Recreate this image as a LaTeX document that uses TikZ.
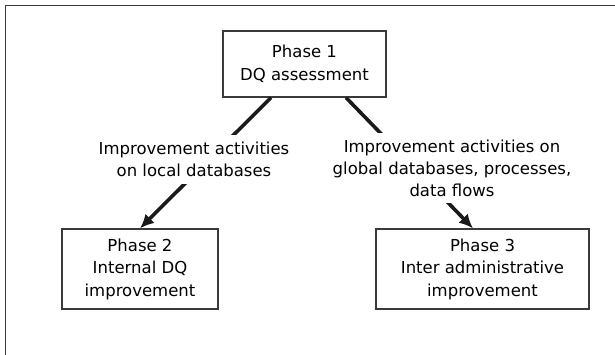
\documentclass[tikz,border=0pt]{standalone}
\usepackage{fontspec}
\setmainfont{DejaVu Sans}
\usepackage{xcolor}
\usepackage{tikz}
\usetikzlibrary{arrows.meta}
\definecolor{Frame}{HTML}{3a3a3a}
\definecolor{Edge}{HTML}{1a1a1a}
\tikzset{
  phasebox/.style={draw=Frame, line width=1.2pt, fill=white, align=center, inner sep=0pt, font=\fontsize{16.5}{22.5}\selectfont},
  actlabel/.style={fill=white, align=center, inner xsep=4pt, inner ysep=7pt, font=\fontsize{16.5}{22}\selectfont},
  flow/.style={draw=Edge, line width=3.6pt, -{Latex[length=14pt,width=13pt]}},
}

\begin{document}
\begin{tikzpicture}[x=1pt,y=1pt]%
\useasboundingbox (0,0) rectangle (615,355);%
\draw[Frame, line width=1.6pt] (5.5,0) -- (5.5,349.5) -- (615,349.5);%
\node[phasebox, minimum width=163pt, minimum height=66pt] (phase1) at (304.5, 291) {Phase 1\\DQ assessment};%
\node[phasebox, minimum width=156pt, minimum height=80pt] (phase2) at (140, 86) {Phase 2\\Internal DQ\\improvement};%
\node[phasebox, minimum width=213pt, minimum height=80pt] (phase3) at (482.5, 86) {Phase 3\\Inter administrative\\improvement};%
\draw[flow] ([xshift=-33.5pt]phase1.south) -- (phase2.north);%
\draw[flow] ([xshift=41.5pt]phase1.south) -- ([xshift=-9.5pt]phase3.north);%
\node[actlabel] (local) at (194, 195.5) {Improvement activities\\on local databases};%
\node[actlabel] (global) at (452, 187) {Improvement activities on\\global databases, processes,\\data flows};%
\end{tikzpicture}
\end{document}
